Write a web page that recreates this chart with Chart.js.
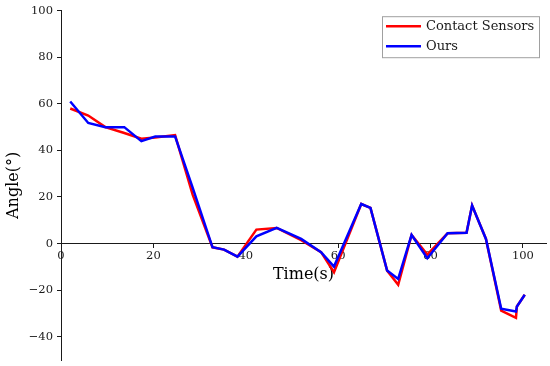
<!DOCTYPE html>
<html>
<head>
<meta charset="utf-8">
<script src="https://cdn.jsdelivr.net/npm/chart.js@4/dist/chart.umd.min.js"></script>
<style>
  html, body { margin: 0; padding: 0; background: #ffffff; }
  #wrap { width: 550px; height: 366px; }
</style>
</head>
<body>
<div id="wrap"><canvas id="c" width="550" height="366"></canvas></div>
<script>
// ---- data ----
const times = [2, 5.9, 9.6, 13.7, 17.4, 20.4, 24.7, 28.5, 32.8, 35.3, 38.2, 42.3, 46.7, 52, 56.3, 59.1, 65, 67, 70.6, 73, 75.9, 79.3, 83.7, 87.8, 89, 92, 95.3, 98.5, 98.7, 100.4];
const contactSensors = [58, 55, 50, 47.5, 45, 45.5, 46.6, 21, -1.6, -2.6, -5.6, 6, 6.7, 1.5, -3.7, -12.3, 17, 15.3, -11.6, -17.7, 3.7, -4.7, 4.4, 4.6, 16.3, 2, -28.8, -31.9, -27, -22];
const ours = [61, 51.8, 50, 50, 44, 46, 46, 24, -1.6, -2.6, -5.6, 3.1, 6.7, 2, -3.7, -9.9, 17, 15.3, -11.6, -15.2, 3.7, -6.3, 4.4, 4.6, 16.3, 2, -28, -29.2, -27, -22];
const seriesNames = ["Contact Sensors", "Ours"];
const xTicks = [0, 20, 40, 60, 80, 100];
const yTicks = [-40, -20, 0, 20, 40, 60, 80, 100];
const xLabel = "Time(s)";
const yLabel = "Angle(°)";

const toPts = (vals) => vals.map((v, i) => ({ x: times[i], y: v }));
const fmt = (v) => String(v).replace('-', '\u2212');
const SERIF = "'DejaVu Serif', serif";

const boxLegend = {
  id: 'boxLegend',
  afterDraw(chart) {
    const ctx = chart.ctx;
    const a = chart.chartArea;
    const x0 = a.right - 164, y0 = a.top + 5.5, w = 157, h = 41;
    ctx.save();
    ctx.fillStyle = '#ffffff';
    ctx.fillRect(x0, y0, w, h);
    ctx.strokeStyle = '#a0a0a0';
    ctx.lineWidth = 1;
    ctx.strokeRect(x0 + 0.5, y0 + 0.5, w, h);
    const ds = chart.data.datasets;
    ds.forEach((d, i) => {
      const y = y0 + 10 + i * 20;
      ctx.strokeStyle = d.borderColor;
      ctx.lineWidth = 2.5;
      ctx.beginPath();
      ctx.moveTo(x0 + 4, y);
      ctx.lineTo(x0 + 39, y);
      ctx.stroke();
      ctx.fillStyle = '#1a1a1a';
      ctx.font = "13px " + SERIF;
      ctx.textBaseline = 'middle';
      ctx.textAlign = 'left';
      ctx.fillText(d.label, x0 + 44, y + 0.5);
    });
    ctx.restore();
  }
};

new Chart(document.getElementById('c'), {
  type: 'scatter',
  data: {
    datasets: [
      { label: seriesNames[0], data: toPts(contactSensors), showLine: true, borderColor: '#ff0000', backgroundColor: '#ff0000', borderWidth: 2.5, pointRadius: 0, order: 1, tension: 0 },
      { label: seriesNames[1], data: toPts(ours), showLine: true, borderColor: '#0000ff', backgroundColor: '#0000ff', borderWidth: 2.5, pointRadius: 0, order: 0, tension: 0 }
    ]
  },
  options: {
    responsive: false,
    animation: false,
    events: [],
    layout: { padding: { top: 10.7, right: 4, bottom: 6, left: 0 } },
    plugins: { legend: { display: false }, tooltip: { enabled: false } },
    scales: {
      x: {
        type: 'linear',
        position: { y: 0 },
        min: 0, max: 105,
        afterBuildTicks: (s) => { s.ticks = xTicks.map(v => ({ value: v })); },
        afterFit: (s) => { s.paddingLeft = 0; s.paddingRight = 0; s.paddingTop = 0; s.paddingBottom = 0; },
        ticks: { color: '#1a1a1a', font: { family: SERIF, size: 11.5 }, padding: 2, maxRotation: 0, callback: (v) => fmt(v) },
        grid: { display: true, drawOnChartArea: false, drawTicks: true, tickLength: 4, color: '#1a1a1a', tickWidth: 1 },
        border: { display: true, color: '#1a1a1a', width: 1 },
        title: { display: true, text: xLabel, color: '#000000', font: { family: SERIF, size: 16 }, padding: { top: 0, bottom: 0 } }
      },
      y: {
        type: 'linear',
        min: -50, max: 100,
        afterBuildTicks: (s) => { s.ticks = yTicks.map(v => ({ value: v })); },
        afterFit: (s) => { s.width = 61; s.paddingTop = 0; s.paddingBottom = 0; },
        ticks: { color: '#1a1a1a', font: { family: SERIF, size: 11.5 }, padding: 4, callback: (v) => fmt(v) },
        grid: { display: true, drawOnChartArea: false, drawTicks: true, tickLength: 4, color: '#1a1a1a', tickWidth: 1 },
        border: { display: true, color: '#1a1a1a', width: 1 },
        title: { display: true, text: yLabel, color: '#000000', font: { family: SERIF, size: 16 }, padding: { top: 4, bottom: 4 } }
      }
    }
  },
  plugins: [boxLegend]
});
</script>
</body>
</html>
